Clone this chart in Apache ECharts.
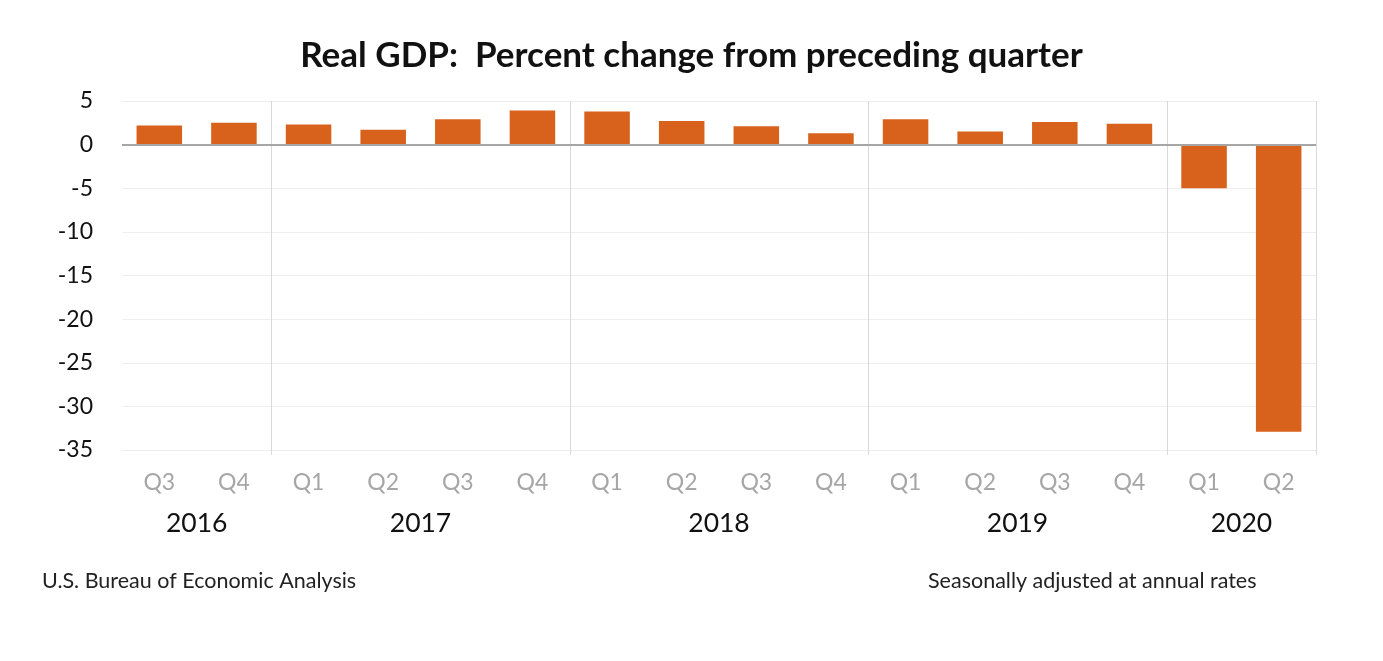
<!DOCTYPE html>
<html><head><meta charset="utf-8">
<script src="https://cdn.jsdelivr.net/npm/echarts@6/dist/echarts.min.js"></script>
<style>html,body{margin:0;padding:0;background:#fff}#c{width:1383px;height:661px}</style>
</head><body><div id="c"></div>
<script>
const quarters = ['Q3','Q4','Q1','Q2','Q3','Q4','Q1','Q2','Q3','Q4','Q1','Q2','Q3','Q4','Q1','Q2'];
const gdpChange = [2.2,2.5,2.3,1.7,2.9,3.9,3.8,2.7,2.1,1.3,2.9,1.5,2.6,2.4,-5.0,-32.9];
const years = ['2016','2017','2018','2019','2020'];
const yearCenters = [1,4,8,12,15];     // in quarter units from the left edge
const yearBoundaries = [2,6,10,14];    // category index where a new year starts
const yTicks = [-35,-30,-25,-20,-15,-10,-5,0,5];

const FONT = 'Lato';
const chart = echarts.init(document.getElementById('c'));
chart.setOption({
  animation:false,
  backgroundColor:'#fff',
  title:[
    {text:'Real GDP:  Percent change from preceding quarter',left:'center',top:33,
     textStyle:{fontFamily:FONT,fontWeight:'bold',fontSize:35,color:'#111'}},
    {text:'U.S. Bureau of Economic Analysis',left:37,top:565,
     textStyle:{fontFamily:FONT,fontWeight:'normal',fontSize:21.5,color:'#222'}},
    {text:'Seasonally adjusted at annual rates',left:923,top:565,
     textStyle:{fontFamily:FONT,fontWeight:'normal',fontSize:21.5,color:'#222'}}
  ],
  grid:{left:122,right:67,top:101,bottom:211,containLabel:false},
  xAxis:[
    {type:'category',data:quarters,position:'bottom',
     axisLine:{show:false,onZero:false},
     axisTick:{show:true,length:5,lineStyle:{color:'#d9d9d9'},interval:(i)=>yearBoundaries.includes(i)},
     splitLine:{show:true,lineStyle:{color:'#d9d9d9',width:1},interval:(i)=>yearBoundaries.includes(i)},
     axisLabel:{fontFamily:FONT,fontSize:23,color:'#a6a6a6',margin:21,interval:0}},
    {type:'value',min:0,max:16,interval:1,position:'bottom',
     axisLine:{show:false,onZero:false},axisTick:{show:false},splitLine:{show:false},
     axisLabel:{fontFamily:FONT,fontSize:26.5,color:'#111',margin:60,showMinLabel:true,showMaxLabel:true,
       formatter:(v)=>{const k=yearCenters.indexOf(v);return k>=0?years[k]:'';}}}
  ],
  yAxis:{type:'value',min:yTicks[0],max:yTicks[yTicks.length-1],interval:5,
    axisLine:{show:false},axisTick:{show:false},
    splitLine:{lineStyle:{color:'#eeeeee',width:1}},
    axisLabel:{fontFamily:FONT,fontSize:23,color:'#111',margin:29}},
  series:[{type:'bar',data:gdpChange,barWidth:'61%',xAxisIndex:0,
    itemStyle:{color:'#D8611B'},
    markLine:{silent:true,symbol:'none',label:{show:false},
      lineStyle:{color:'#a6a6a6',width:2,type:'solid'},data:[{yAxis:0}]}}]
});
</script></body></html>
